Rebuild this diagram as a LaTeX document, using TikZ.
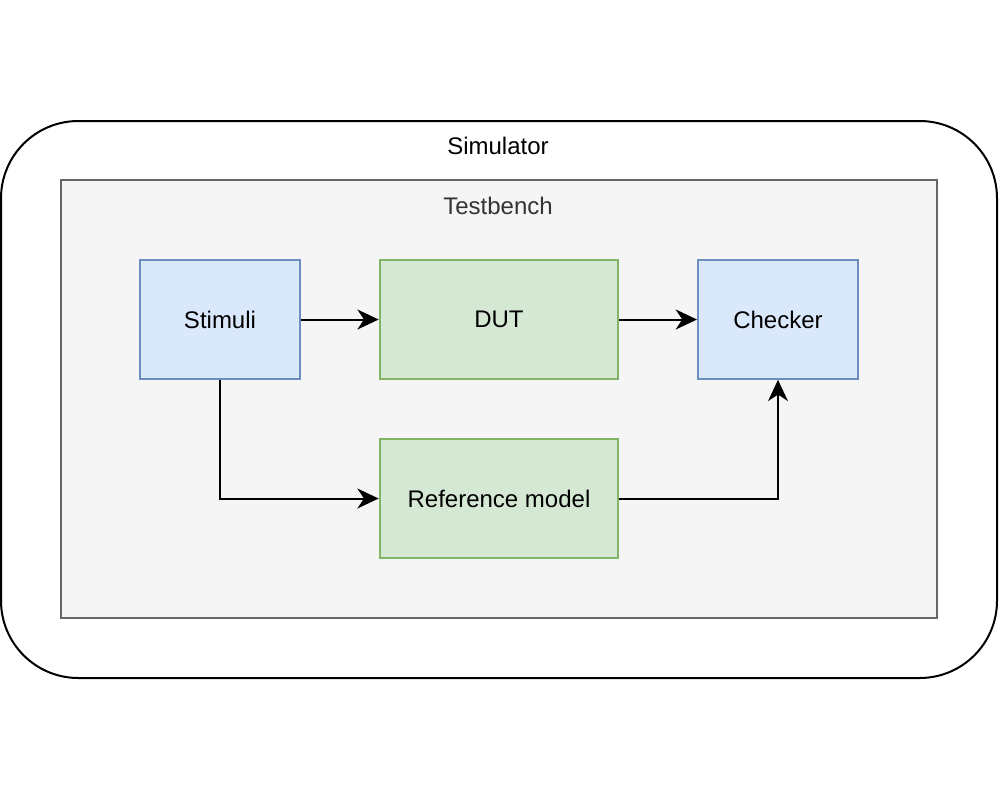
\documentclass[tikz,border=0pt]{standalone}
\usepackage{fontspec}
\setmainfont{Liberation Sans}
\usetikzlibrary{arrows.meta,positioning}

\definecolor{bluefill}{HTML}{DAE8FC}
\definecolor{bluedraw}{HTML}{6C8EBF}
\definecolor{greenfill}{HTML}{D5E8D4}
\definecolor{greendraw}{HTML}{82B366}
\definecolor{tbfill}{HTML}{F5F5F5}
\definecolor{tbdraw}{HTML}{666666}
\definecolor{tbtext}{HTML}{333333}

\tikzset{
  bluebox/.style={draw=bluedraw, fill=bluefill, line width=1.5pt, minimum width=120pt, minimum height=89pt, inner sep=0pt},
  greenbox/.style={draw=greendraw, fill=greenfill, line width=1.5pt, minimum width=179pt, minimum height=89pt, inner sep=0pt},
  flow/.style={-{Stealth[length=16pt,width=15pt,inset=5pt]}, line width=1.5pt}
}

\begin{document}
\begin{tikzpicture}[x=0.75pt,y=-0.75pt,font=\fontsize{18}{21}\selectfont]
  \useasboundingbox (0,0) rectangle (1000,801);

  % simulator and testbench frames
  \draw [line width=1.5pt, rounded corners=58pt] (1,121) rectangle (997,678);
  \node (sim) at (498,146) {Simulator};
  \draw [draw=tbdraw, fill=tbfill, line width=1.5pt] (61,180) rectangle (937,618);
  \node [text=tbtext] (tb) at (498,206) {Testbench};

  % blocks
  \node [bluebox] (stimuli) at (220,319.5) {Stimuli};
  \node [greenbox] (dut) at (499,319.5) {DUT};
  \node [bluebox] (checker) at (778,319.5) {Checker};
  \node [greenbox] (refmodel) at (499,498.5) {Reference model};

  % connections
  \draw [flow] (stimuli) -- (dut);
  \draw [flow] (dut) -- (checker);
  \draw [flow] (stimuli.south) |- (refmodel.west);
  \draw [flow] (refmodel.east) -| (checker.south);
\end{tikzpicture}
\end{document}
